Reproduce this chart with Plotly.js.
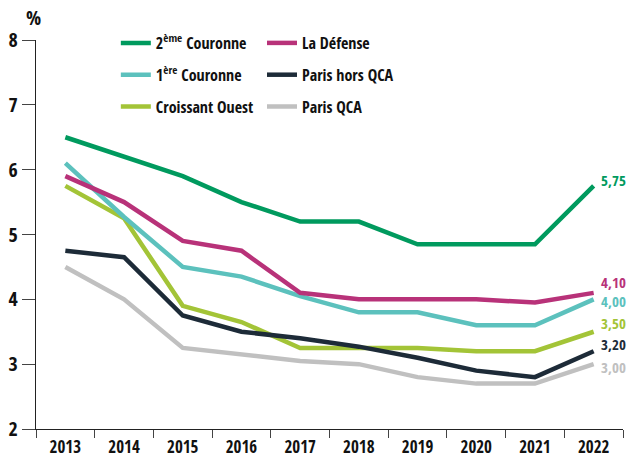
<!DOCTYPE html>
<html><head><meta charset="utf-8">
<script src="https://cdn.plot.ly/plotly-3.0.1.min.js"></script>
<style>html,body{margin:0;padding:0;background:#fff;}</style>
</head><body><div id="chart" style="width:627px;height:457px;"></div>
<script>
const years = ['2013','2014','2015','2016','2017','2018','2019','2020','2021','2022'];
const couronne2 = [6.5, 6.2, 5.9, 5.5, 5.2, 5.2, 4.85, 4.85, 4.85, 5.75];
const couronne1 = [6.1, 5.27, 4.5, 4.35, 4.05, 3.8, 3.8, 3.6, 3.6, 4.0];
const croissantOuest = [5.75, 5.25, 3.9, 3.65, 3.25, 3.25, 3.25, 3.2, 3.2, 3.5];
const laDefense = [5.9, 5.5, 4.9, 4.75, 4.1, 4.0, 4.0, 4.0, 3.95, 4.1];
const parisHorsQCA = [4.75, 4.65, 3.75, 3.5, 3.4, 3.27, 3.1, 2.9, 2.8, 3.2];
const parisQCA = [4.5, 4.0, 3.25, 3.15, 3.05, 3.0, 2.8, 2.7, 2.7, 3.0];
const seriesNames = ['2<sup>ème</sup> Couronne','1<sup>ère</sup> Couronne','Croissant Ouest','La Défense','Paris hors QCA','Paris QCA'];

const FONT = '"Open Sans Condensed", "Roboto Condensed", "DejaVu Sans Condensed", sans-serif';
const series = [
  {name: seriesNames[5], y: parisQCA, color: '#c0c0c0', legend: 'legend2', rank: 3, shift: -3},
  {name: seriesNames[2], y: croissantOuest, color: '#a3c437', legend: 'legend', rank: 3, shift: 9},
  {name: seriesNames[1], y: couronne1, color: '#5cc1bd', legend: 'legend', rank: 2, shift: -2},
  {name: seriesNames[3], y: laDefense, color: '#b83279', legend: 'legend2', rank: 1, shift: 11},
  {name: seriesNames[4], y: parisHorsQCA, color: '#1d2b38', legend: 'legend2', rank: 2, shift: 7},
  {name: seriesNames[0], y: couronne2, color: '#009a5e', legend: 'legend', rank: 1, shift: 6}
];
const traces = series.map((s, i) => ({
  type: 'scatter', mode: 'lines', x: years, y: s.y, name: s.name,
  line: {color: s.color, width: 4.5}, legend: s.legend, legendrank: s.rank,
  legendgroup: 'g' + i, hoverinfo: 'skip'
}));
const lastIdx = years.length - 1;
const annotations = series.map(s => ({
  x: lastIdx, y: s.y[lastIdx], xref: 'x', yref: 'y',
  text: s.y[lastIdx].toFixed(2).replace('.', ','),
  showarrow: false, xanchor: 'left', yanchor: 'middle', xshift: 5, yshift: s.shift,
  font: {family: FONT, size: 15, weight: 'bold', color: s.color}
}));
annotations.push({
  text: '%', xref: 'paper', yref: 'paper', x: -0.021, y: 1.059,
  xanchor: 'left', yanchor: 'middle', showarrow: false,
  font: {family: FONT, size: 20, weight: 'bold', color: '#111'}
});
const legendBase = {
  orientation: 'v', xref: 'paper', yref: 'paper', yanchor: 'top', xanchor: 'left',
  bgcolor: 'rgba(0,0,0,0)', font: {family: FONT, size: 16, weight: 'bold', color: '#111'},
  tracegroupgap: 8, itemwidth: 30, traceorder: 'grouped'
};
const layout = {
  width: 627, height: 457,
  margin: {l: 36, r: 4, t: 40, b: 28},
  paper_bgcolor: '#fff', plot_bgcolor: '#fff',
  showlegend: true,
  legend: Object.assign({}, legendBase, {x: 0.136, y: 1.036}),
  legend2: Object.assign({}, legendBase, {x: 0.385, y: 1.036}),
  xaxis: {
    type: 'category', range: [-0.5, 9.5], showgrid: false, zeroline: false,
    showline: true, linecolor: '#222', linewidth: 1.2,
    ticks: 'outside', tickson: 'boundaries', ticklen: 8, tickcolor: '#444', tickwidth: 1,
    ticklabelstandoff: 2,
    tickfont: {family: FONT, size: 17, weight: 'bold', color: '#111'}, fixedrange: true
  },
  yaxis: {
    range: [2, 8], dtick: 1, showgrid: false, zeroline: false,
    showline: true, linecolor: '#222', linewidth: 1.2,
    ticks: 'outside', ticklen: 13, tickcolor: '#444', tickwidth: 1,
    tickfont: {family: FONT, size: 20, weight: 'bold', color: '#111'}, fixedrange: true
  },
  annotations: annotations
};
Plotly.newPlot('chart', traces, layout, {displayModeBar: false, staticPlot: true});
</script></body></html>
